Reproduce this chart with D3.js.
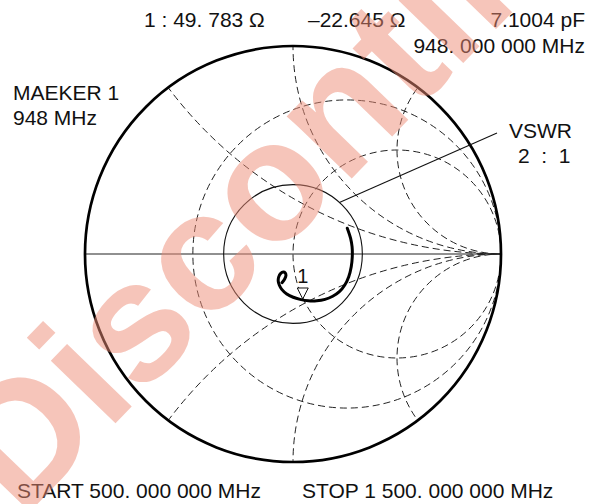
<!DOCTYPE html>
<html>
<head>
<meta charset="utf-8">
<script src="https://cdn.jsdelivr.net/npm/d3@7"></script>
<style>
  html, body { margin: 0; padding: 0; background: #fff; }
  svg { display: block; }
  text { font-family: "Liberation Sans", Arial, Helvetica, sans-serif; fill: #111; }
</style>
</head>
<body>
<svg id="chart" width="589" height="504"></svg>
<script>
// Reference impedance of the chart (ohms)
const Z0 = 50;

// Grid: constant-resistance circles and constant-reactance arcs (normalised)
const resistanceCircles = [0.35, 1];
const reactanceArcs = [0.5, 1, 2, -0.5, -1, -2];

// VSWR reference circle
const vswrCircle = 2;

// Measured reflection coefficient, 500 MHz -> 1500 MHz sweep (real / imaginary parts)
const traceRe = [0.261, 0.277, 0.284, 0.285, 0.280, 0.268, 0.249, 0.223, 0.191, 0.154,
                 0.114, 0.074, 0.034, 0.001, -0.030, -0.054, -0.066, -0.071, -0.069, -0.059,
                 -0.047, -0.037, -0.034, -0.040, -0.053];
const traceIm = [0.124, 0.075, 0.035, -0.013, -0.061, -0.109, -0.149, -0.181, -0.203, -0.218,
                 -0.225, -0.225, -0.218, -0.208, -0.192, -0.170, -0.149, -0.130, -0.111, -0.093,
                 -0.087, -0.091, -0.104, -0.120, -0.138];

// Marker 1 readout at 948 MHz
const markerName = "1";
const markerR = 49.783;   // ohms
const markerX = -22.645;  // ohms
const markerReadout = ["1 : 49. 783 Ω", "–22.645 Ω", "7.1004 pF", "948. 000 000 MHz"];
const markerCaption = ["MAEKER 1", "948 MHz"];
const vswrCaption = ["VSWR", "2  :  1"];
const sweepLabels = ["START 500. 000 000 MHz", "STOP 1 500. 000 000 MHz"];
const watermarkText = "Discontinued";

// ---- layout ----
const cx = 293, cy = 254, R = 208;
const fontSize = 21;

const svg = d3.select("#chart");
svg.append("rect").attr("width", 589).attr("height", 504).attr("fill", "#fff");

const gx = d3.scaleLinear().domain([-1, 1]).range([cx - R, cx + R]);
const gy = d3.scaleLinear().domain([-1, 1]).range([cy + R, cy - R]);
const len = d3.scaleLinear().domain([0, 1]).range([0, R]);

svg.append("clipPath").attr("id", "unit")
  .append("circle").attr("cx", gx(0)).attr("cy", gy(0)).attr("r", len(1));

const grid = svg.append("g").attr("clip-path", "url(#unit)")
  .attr("fill", "none").attr("stroke", "#222").attr("stroke-width", 1)
  .attr("stroke-dasharray", "7,4");

// constant resistance: centre r/(r+1), radius 1/(r+1)
grid.selectAll("circle.res").data(resistanceCircles).join("circle")
  .attr("class", "res")
  .attr("cx", r => gx(r / (r + 1))).attr("cy", gy(0))
  .attr("r", r => len(1 / (r + 1)));

// constant reactance: centre (1, 1/x), radius 1/|x|
grid.selectAll("circle.reac").data(reactanceArcs).join("circle")
  .attr("class", "reac")
  .attr("cx", gx(1)).attr("cy", x => gy(1 / x))
  .attr("r", x => len(1 / Math.abs(x)));

// real axis
svg.append("line")
  .attr("x1", gx(-1)).attr("x2", gx(1)).attr("y1", gy(0)).attr("y2", gy(0))
  .attr("stroke", "#222").attr("stroke-width", 1.1);

// VSWR circle, |Γ| = (S-1)/(S+1)
const gammaV = (vswrCircle - 1) / (vswrCircle + 1);
svg.append("circle")
  .attr("cx", gx(0)).attr("cy", gy(0)).attr("r", len(gammaV))
  .attr("fill", "none").attr("stroke", "#111").attr("stroke-width", 1.1);

// outer boundary |Γ| = 1
svg.append("circle")
  .attr("cx", gx(0)).attr("cy", gy(0)).attr("r", len(1))
  .attr("fill", "none").attr("stroke", "#000").attr("stroke-width", 2.7);

// leader from the VSWR circle to its caption
const leadAng = 48 * Math.PI / 180;
svg.append("line")
  .attr("x1", gx(gammaV * Math.cos(leadAng))).attr("y1", gy(gammaV * Math.sin(leadAng)))
  .attr("x2", 497).attr("y2", 133)
  .attr("stroke", "#111").attr("stroke-width", 1.1);

// measured trace
const pts = traceRe.map((re, i) => [re, traceIm[i]]);
svg.append("path")
  .attr("d", d3.line().x(d => gx(d[0])).y(d => gy(d[1])).curve(d3.curveCatmullRom)(pts))
  .attr("fill", "none").attr("stroke", "#000").attr("stroke-width", 3)
  .attr("stroke-linecap", "round").attr("stroke-linejoin", "round");

// marker: convert impedance to reflection coefficient
const zr = markerR / Z0, zi = markerX / Z0;
const den = (zr + 1) * (zr + 1) + zi * zi;
const mRe = ((zr - 1) * (zr + 1) + zi * zi) / den;
const mIm = (zi * (zr + 1) - (zr - 1) * zi) / den;
const mx = gx(mRe), my = gy(mIm);
svg.append("path")
  .attr("d", `M${mx},${my} L${mx - 5.5},${my - 11} L${mx + 5.5},${my - 11} Z`)
  .attr("fill", "#fff").attr("stroke", "#111").attr("stroke-width", 1);
svg.append("text").attr("x", mx).attr("y", my - 16)
  .attr("text-anchor", "middle").attr("font-size", 20).text(markerName);

// text readouts
const label = (x, y, t, anchor) => svg.append("text")
  .attr("x", x).attr("y", y).attr("font-size", fontSize)
  .attr("text-anchor", anchor || "start")
  .style("white-space", "pre").text(t);

label(144, 27, markerReadout[0]);
label(308, 27, markerReadout[1]);
label(585, 27, markerReadout[2], "end");
label(585, 53, markerReadout[3], "end");
label(13, 100, markerCaption[0]);
label(13, 125, markerCaption[1]);
label(509, 138, vswrCaption[0]);
label(518, 163, vswrCaption[1]);
label(17, 498, sweepLabels[0]);
label(302, 498, sweepLabels[1]);

// diagonal stamp across the chart
svg.append("text")
  .attr("transform", "translate(22,520) rotate(-46)")
  .attr("font-size", 170).attr("font-weight", "bold")
  .style("fill", "rgb(238,140,118)").style("fill-opacity", 0.5)
  .text(watermarkText);
</script>
</body>
</html>
